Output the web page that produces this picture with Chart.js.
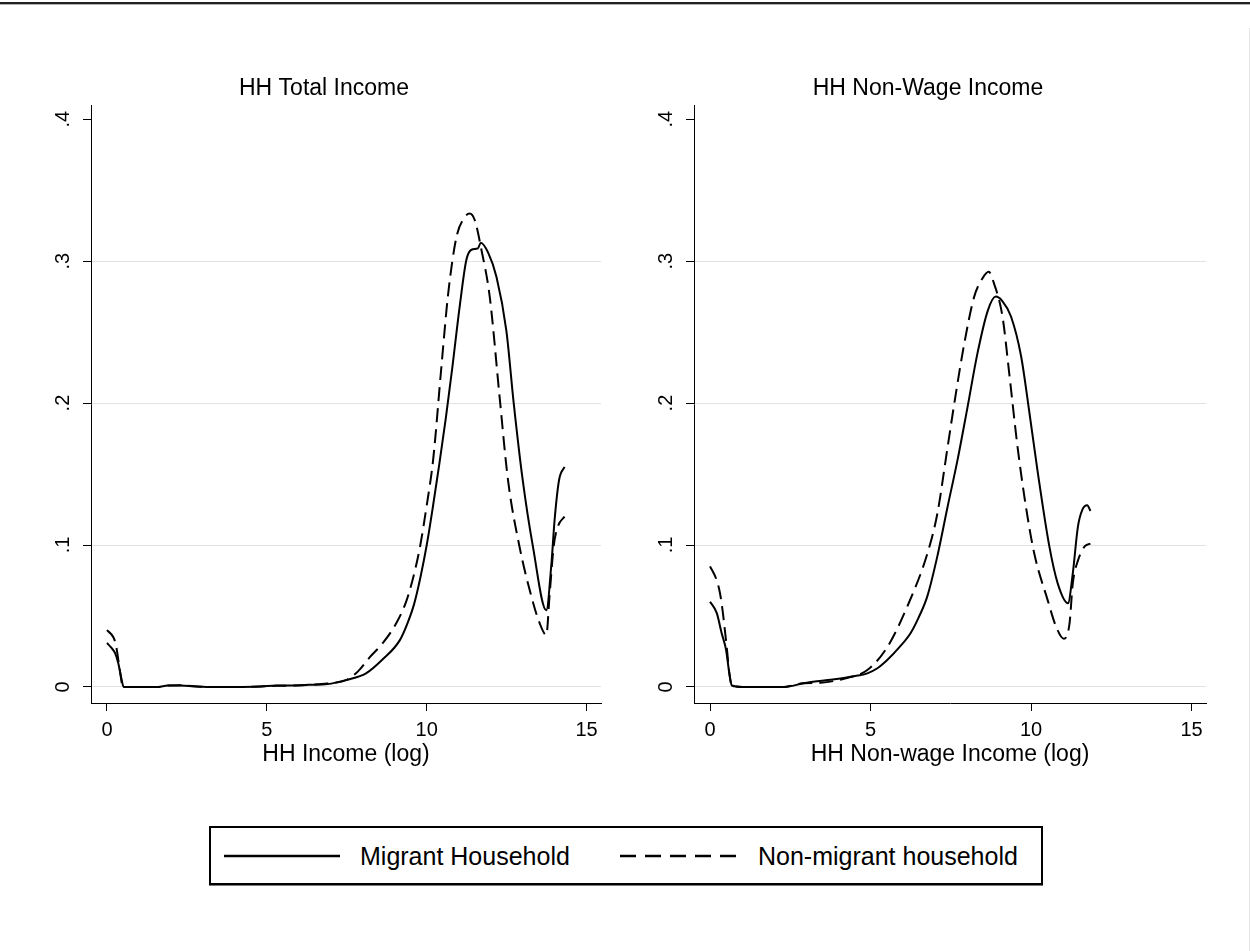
<!DOCTYPE html>
<html>
<head>
<meta charset="utf-8">
<script src="https://cdn.jsdelivr.net/npm/chart.js@4.4.1/dist/chart.umd.min.js"></script>
<style>
  html, body { margin: 0; padding: 0; background: #fff; }
  body { width: 1250px; height: 951px; position: relative; overflow: hidden;
         font-family: Arial, "Liberation Sans", Helvetica, sans-serif; color: #000; }
  #topRule { position: absolute; left: 0; top: 2px; width: 1250px; height: 2px; background: #222; }
  #topRule2 { position: absolute; left: 0; top: 4px; width: 1250px; height: 1px; background: #b0b0b0; }
  #rightRule { position: absolute; left: 1249px; top: 28px; width: 1px; height: 923px; background: #e4e4e4; }
  canvas { position: absolute; }
  #cTotal { left: 47px; top: 73px; }
  #cNonWage { left: 650px; top: 73px; }
  #legend { position: absolute; left: 209px; top: 826px; width: 830px; height: 55px;
            border: 2px solid #000; box-shadow: 0 1px 0 #777; background: #fff; }
  .swatch { position: absolute; top: 18px; }
  .lgText { position: absolute; top: 13px; font-size: 25px; line-height: 30px; white-space: nowrap; }
</style>
</head>
<body>
<div id="topRule"></div>
<div id="topRule2"></div>
<div id="rightRule"></div>
<canvas id="cTotal" width="568" height="700"></canvas>
<canvas id="cNonWage" width="570" height="700"></canvas>
<div id="legend">
  <svg class="swatch" style="left:13px" width="116" height="20"><line x1="0" y1="10" x2="116" y2="10" stroke="#000" stroke-width="2.5"/></svg>
  <div class="lgText" id="lg0" style="left:149px"></div>
  <svg class="swatch" style="left:409px" width="122" height="20"><line x1="0" y1="10" x2="122" y2="10" stroke="#000" stroke-width="2.5" stroke-dasharray="16 9"/></svg>
  <div class="lgText" id="lg1" style="left:547px"></div>
</div>
<script>
// Axis ticks and labels
const xTicks = [0, 5, 10, 15];
const xTickLabels = ['0', '5', '10', '15'];
const yTicks = [0, 0.1, 0.2, 0.3, 0.4];
const yTickLabels = ['0', '.1', '.2', '.3', '.4'];

const seriesNames = ['Migrant Household', 'Non-migrant household'];
const panelTitles = ['HH Total Income', 'HH Non-Wage Income'];
const axisTitles = ['HH Income (log)', 'HH Non-wage Income (log)'];

// Kernel density, HH total income (log)
const totalMigX = [0, 0.12, 0.25, 0.35, 0.46, 0.52, 1.0, 1.6, 1.9, 2.3, 2.7, 3.1, 4.0, 4.8, 5.3, 5.8, 6.3, 6.9, 7.5, 8.1, 8.6, 9.16, 9.4, 9.6, 9.8, 10.0, 10.2, 10.4, 10.6, 10.8, 11.03, 11.24, 11.4, 11.6, 11.69, 11.92, 12.18, 12.49, 12.72, 13.0, 13.32, 13.74, 13.9, 14.0, 14.14, 14.31];
const totalMigY = [0.031, 0.028, 0.024, 0.017, 0.005, 0.0, 0.0, 0.0, 0.001, 0.001, 0.0005, 0.0, 0.0, 0.0003, 0.001, 0.001, 0.0015, 0.002, 0.005, 0.0096, 0.019, 0.033, 0.045, 0.058, 0.077, 0.1, 0.128, 0.158, 0.19, 0.225, 0.268, 0.301, 0.308, 0.309, 0.313, 0.306, 0.289, 0.251, 0.2, 0.146, 0.099, 0.054, 0.087, 0.118, 0.146, 0.155];
const totalNonX = [0, 0.2, 0.28, 0.4, 0.5, 1.0, 1.6, 1.9, 2.3, 2.7, 3.1, 4.0, 4.8, 5.3, 5.8, 6.3, 6.9, 7.5, 7.85, 8.22, 8.63, 9.05, 9.37, 9.63, 9.8, 10.0, 10.2, 10.46, 10.67, 10.93, 11.19, 11.34, 11.5, 11.71, 11.97, 12.28, 12.54, 12.9, 13.27, 13.53, 13.74, 13.84, 13.97, 14.1, 14.31];
const totalNonY = [0.040, 0.035, 0.0296, 0.012, 0.0, 0.0, 0.0, 0.001, 0.0012, 0.0005, 0.0, 0.0, 0.0003, 0.0008, 0.001, 0.0015, 0.0025, 0.005, 0.011, 0.021, 0.031, 0.045, 0.061, 0.082, 0.1, 0.128, 0.16, 0.226, 0.277, 0.317, 0.331, 0.3335, 0.329, 0.308, 0.275, 0.204, 0.146, 0.099, 0.064, 0.045, 0.0366, 0.064, 0.099, 0.113, 0.12];

// Kernel density, HH non-wage income (log)
const nonwageMigX = [0, 0.21, 0.36, 0.5, 0.6, 0.68, 1.0, 1.6, 2.29, 2.92, 3.33, 3.75, 4.06, 4.6, 4.9, 5.2, 5.52, 5.9, 6.25, 6.5, 6.77, 7.08, 7.4, 7.71, 8.02, 8.33, 8.65, 8.9, 9.1, 9.375, 9.69, 9.95, 10.21, 10.57, 10.83, 11.15, 11.3, 11.46, 11.6, 11.75, 11.85];
const nonwageMigY = [0.060, 0.052, 0.038, 0.026, 0.0096, 0.001, 0.0, 0.0, 0.0, 0.0026, 0.004, 0.005, 0.006, 0.008, 0.0096, 0.013, 0.019, 0.028, 0.038, 0.049, 0.064, 0.092, 0.127, 0.160, 0.197, 0.235, 0.265, 0.275, 0.272, 0.261, 0.233, 0.193, 0.151, 0.099, 0.073, 0.059, 0.080, 0.113, 0.125, 0.128, 0.124];
const nonwageNonX = [0, 0.21, 0.31, 0.39, 0.45, 0.52, 0.6, 0.68, 1.0, 1.6, 2.3, 2.9, 3.44, 4.2, 4.9, 5.52, 6.15, 6.77, 7.08, 7.4, 7.66, 7.92, 8.23, 8.49, 8.68, 8.85, 9.11, 9.32, 9.58, 9.84, 10.1, 10.52, 10.78, 11.02, 11.2, 11.3, 11.46, 11.67, 11.85];
const nonwageNonY = [0.085, 0.075, 0.066, 0.054, 0.0425, 0.028, 0.01, 0.001, 0.0, 0.0, 0.0, 0.0026, 0.003, 0.006, 0.012, 0.028, 0.057, 0.094, 0.122, 0.169, 0.207, 0.242, 0.275, 0.288, 0.2925, 0.284, 0.261, 0.221, 0.169, 0.127, 0.094, 0.061, 0.0425, 0.034, 0.045, 0.073, 0.089, 0.099, 0.101];

const FONT = 'Arial, "Liberation Sans", Helvetica, sans-serif';
Chart.defaults.font.family = FONT;
Chart.defaults.color = '#000';

function toPoints(xs, ys) {
  return xs.map((x, i) => ({ x: x, y: ys[i] }));
}

function labelFor(ticks, labels, v) {
  const i = ticks.findIndex(t => Math.abs(t - v) < 1e-9);
  return i >= 0 ? labels[i] : '';
}

function makePanel(id, title, xTitle, mig, non) {
  const line = { borderColor: '#000', borderWidth: 2, pointRadius: 0, fill: false,
                 cubicInterpolationMode: 'monotone' };
  return new Chart(document.getElementById(id), {
    type: 'line',
    data: {
      datasets: [
        Object.assign({ label: seriesNames[0], data: mig }, line),
        Object.assign({ label: seriesNames[1], data: non, borderDash: [14, 7] }, line)
      ]
    },
    options: {
      responsive: false,
      animation: false,
      devicePixelRatio: 1,
      layout: { padding: { left: 0, right: 14, top: 0, bottom: 0 } },
      plugins: {
        legend: { display: false },
        tooltip: { enabled: false },
        title: { display: true, text: title, color: '#000',
                 font: { size: 23, weight: 'normal' }, padding: { top: 2, bottom: 2.4 } }
      },
      scales: {
        x: {
          type: 'linear', min: -0.5, max: 15.45,
          afterBuildTicks: s => { s.ticks = xTicks.map(v => ({ value: v })); },
          afterFit: s => { s.height = 70; },
          ticks: { font: { size: 20 }, padding: 7, maxRotation: 0,
                   callback: v => labelFor(xTicks, xTickLabels, v) },
          grid: { drawOnChartArea: false, tickLength: 8, tickColor: '#000', tickWidth: 1 },
          border: { display: true, color: '#000', width: 1 },
          title: { display: true, text: xTitle, color: '#000',
                   font: { size: 23 }, padding: { top: 0, bottom: 5 } }
        },
        y: {
          type: 'linear', min: -0.0113, max: 0.41,
          afterBuildTicks: s => { s.ticks = yTicks.map(v => ({ value: v })); },
          afterFit: s => { s.width = 44; },
          ticks: { font: { size: 20 }, padding: 11, minRotation: 90, maxRotation: 90,
                   crossAlign: 'center',
                   callback: v => labelFor(yTicks, yTickLabels, v) },
          grid: {
            color: c => (c.tick && Math.abs(c.tick.value - 0.4) < 1e-9) ? 'rgba(0,0,0,0)' : '#e2e2e2',
            lineWidth: 1, tickLength: 8, tickColor: '#000', tickWidth: 1
          },
          border: { display: true, color: '#000', width: 1 }
        }
      }
    }
  });
}

makePanel('cTotal', panelTitles[0], axisTitles[0],
          toPoints(totalMigX, totalMigY), toPoints(totalNonX, totalNonY));
makePanel('cNonWage', panelTitles[1], axisTitles[1],
          toPoints(nonwageMigX, nonwageMigY), toPoints(nonwageNonX, nonwageNonY));

document.getElementById('lg0').textContent = seriesNames[0];
document.getElementById('lg1').textContent = seriesNames[1];
</script>
</body>
</html>
